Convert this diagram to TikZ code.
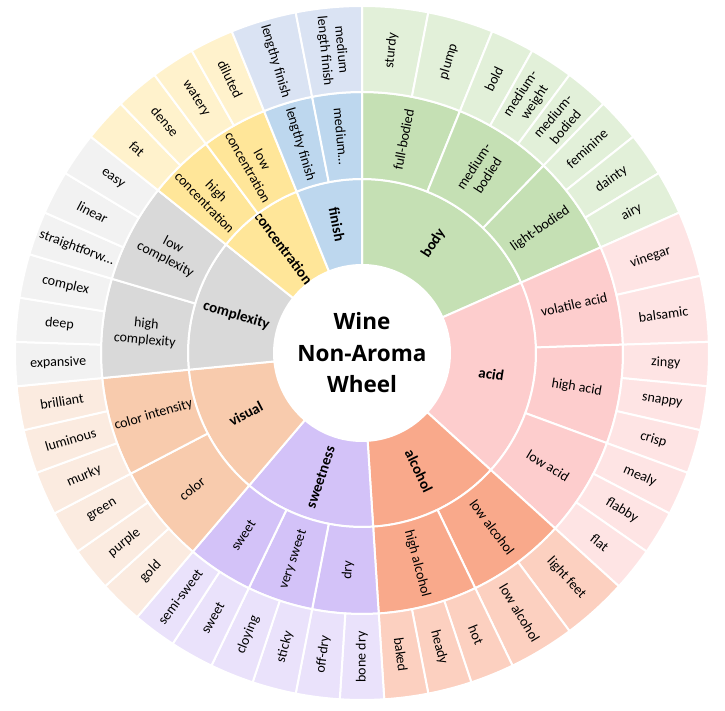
\documentclass[tikz,border=0pt]{standalone}
\usepackage{fontspec}
\setmainfont{Carlito}
\newfontfamily\titlefont{Open Sans}
\usepackage{tikz}
\usepackage{xcolor}
% dark = inner two rings, light = outer ring
\definecolor{body-dk}{HTML}{C5E0B4}
\definecolor{body-lt}{HTML}{E2F0D9}
\definecolor{acid-dk}{HTML}{FDCDCD}
\definecolor{acid-lt}{HTML}{FEE4E4}
\definecolor{alc-dk}{HTML}{F9A98B}
\definecolor{alc-lt}{HTML}{FCD0C0}
\definecolor{sweet-dk}{HTML}{D3C2F8}
\definecolor{sweet-lt}{HTML}{EAE2FB}
\definecolor{vis-dk}{HTML}{F8CBAD}
\definecolor{vis-lt}{HTML}{FBEBE0}
\definecolor{cplx-dk}{HTML}{D9D9D9}
\definecolor{cplx-lt}{HTML}{F2F2F2}
\definecolor{conc-dk}{HTML}{FFE699}
\definecolor{conc-lt}{HTML}{FFF2CC}
\definecolor{fin-dk}{HTML}{BDD7EE}
\definecolor{fin-lt}{HTML}{DAE3F3}

\begin{document}
\begin{tikzpicture}[
    x=1pt, y=1pt,
    seg/.style={draw=white, line width=2pt, line join=round},
    catlabel/.style={font=\fontsize{15}{17}\selectfont\bfseries, align=center, inner sep=0pt},
    sublabel/.style={font=\fontsize{14}{16.5}\selectfont, align=center, inner sep=0pt},
    title/.style={font=\titlefont\fontsize{22.5}{31.5}\selectfont\bfseries, align=center}
]
\useasboundingbox (0,0) rectangle (725,711);
\coordinate (hub) at (362,358);

\begin{scope}[shift={(hub)}]
% inner ring: categories
\foreach \a/\b/\c/\t [count=\i] in {
    0/18/body/body, 18/36/acid/acid, 36/48/alc/alcohol, 48/60/sweet/sweetness,
    60/72/vis/visual, 72/84/cplx/complexity, 84/92/conc/concentration, 92/98/fin/finish} {
  \pgfmathsetmacro{\sa}{90-\a*(360/98)}
  \pgfmathsetmacro{\ea}{90-\b*(360/98)}
  \pgfmathsetmacro{\ma}{(\sa+\ea)/2}
  \pgfmathsetmacro{\rot}{ifthenelse(\ma<-89.9,\ma+180,\ma)}
  \draw[seg, fill=\c-dk] (\sa:88) arc[start angle=\sa, end angle=\ea, radius=88]
    -- (\ea:174) arc[start angle=\ea, end angle=\sa, radius=174] -- cycle;
  \node[catlabel, rotate=\rot] (cat-\i) at (\ma:131) {\t};
}

% middle ring
\foreach \a/\b/\c/\t [count=\i] in {
    0/6/body/full-bodied, 6/12/body/{medium-\\bodied}, 12/18/body/light-bodied,
    18/24/acid/volatile acid, 24/30/acid/high acid, 30/36/acid/low acid,
    36/42/alc/low alcohol, 42/48/alc/high alcohol,
    48/52/sweet/dry, 52/56/sweet/very sweet, 56/60/sweet/sweet,
    60/66/vis/color, 66/72/vis/color intensity,
    72/78/cplx/{high\\complexity}, 78/84/cplx/{low\\complexity},
    84/88/conc/{high\\concentration}, 88/92/conc/{low\\concentration},
    92/95/fin/lengthy finish, 95/98/fin/medium…} {
  \pgfmathsetmacro{\sa}{90-\a*(360/98)}
  \pgfmathsetmacro{\ea}{90-\b*(360/98)}
  \pgfmathsetmacro{\ma}{(\sa+\ea)/2}
  \pgfmathsetmacro{\rot}{ifthenelse(\ma<-89.9,\ma+180,\ma)}
  \draw[seg, fill=\c-dk] (\sa:174) arc[start angle=\sa, end angle=\ea, radius=174]
    -- (\ea:261) arc[start angle=\ea, end angle=\sa, radius=261] -- cycle;
  \node[sublabel, rotate=\rot] (sub-\i) at (\ma:217.5) {\t};
}

% outer ring: leaves
\foreach \a/\b/\c/\t [count=\i] in {
    0/3/body/sturdy, 3/6/body/plump, 6/8/body/bold, 8/10/body/{medium-\\weight},
    10/12/body/{medium-\\bodied}, 12/14/body/feminine, 14/16/body/dainty, 16/18/body/airy,
    18/21/acid/vinegar, 21/24/acid/balsamic, 24/26/acid/zingy, 26/28/acid/snappy,
    28/30/acid/crisp, 30/32/acid/mealy, 32/34/acid/flabby, 34/36/acid/flat,
    36/39/alc/light feet, 39/42/alc/low alcohol, 42/44/alc/hot, 44/46/alc/heady, 46/48/alc/baked,
    48/50/sweet/bone dry, 50/52/sweet/off-dry, 52/54/sweet/sticky, 54/56/sweet/cloying,
    56/58/sweet/sweet, 58/60/sweet/semi-sweet,
    60/62/vis/gold, 62/64/vis/purple, 64/66/vis/green, 66/68/vis/murky,
    68/70/vis/luminous, 70/72/vis/brilliant,
    72/74/cplx/expansive, 74/76/cplx/deep, 76/78/cplx/complex,
    78/80/cplx/straightforw…, 80/82/cplx/linear, 82/84/cplx/easy,
    84/86/conc/fat, 86/88/conc/dense, 88/90/conc/watery, 90/92/conc/diluted,
    92/95/fin/lengthy finish, 95/98/fin/{medium\\length finish}} {
  \pgfmathsetmacro{\sa}{90-\a*(360/98)}
  \pgfmathsetmacro{\ea}{90-\b*(360/98)}
  \pgfmathsetmacro{\ma}{(\sa+\ea)/2}
  \pgfmathsetmacro{\rot}{ifthenelse(\ma<-89.9,\ma+180,\ma)}
  \draw[seg, fill=\c-lt] (\sa:261) arc[start angle=\sa, end angle=\ea, radius=261]
    -- (\ea:347) arc[start angle=\ea, end angle=\sa, radius=347] -- cycle;
  \node[sublabel, rotate=\rot] (leaf-\i) at (\ma:304) {\t};
}
\end{scope}

\node[title] (wheel) at (hub) {Wine\\Non-Aroma\\Wheel};

\end{tikzpicture}
\end{document}
